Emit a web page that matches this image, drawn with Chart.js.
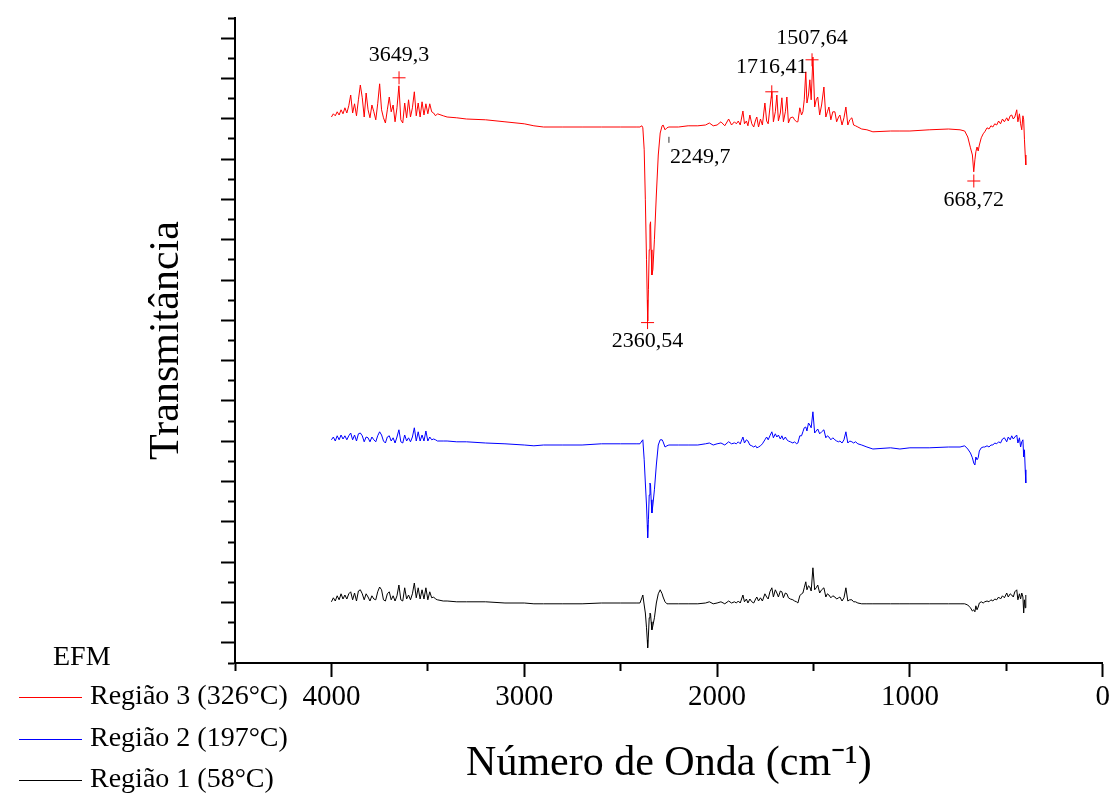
<!DOCTYPE html>
<html lang="pt">
<head>
<meta charset="utf-8">
<title>EFM - Transmitância</title>
<script src="https://cdn.jsdelivr.net/npm/chart.js@4.4.1/dist/chart.umd.min.js"></script>
<style>
    html, body { margin: 0; padding: 0; background: #fff; }
    #wrap { width: 1113px; height: 793px; position: relative; }
</style>
</head>
<body>
<div id="wrap"><canvas id="ftir-chart"></canvas></div>
<script>
// Wavenumbers (cm-1), shared by the three spectra
const wavenumbers = [
    4000, 3990, 3980, 3970, 3960, 3950, 3940, 3930, 3920, 3910,
    3900, 3890, 3880, 3870, 3860, 3850, 3840, 3830, 3820, 3810,
    3800, 3790, 3780, 3770, 3760, 3750, 3740, 3730, 3720, 3710,
    3700, 3690, 3680, 3670, 3660, 3650, 3640, 3630, 3620, 3610,
    3600, 3590, 3580, 3570, 3560, 3550, 3540, 3530, 3520, 3510,
    3500, 3490, 3480, 3470, 3460, 3450,
    3420, 3400, 3350, 3300, 3200, 3100, 3000, 2950, 2900, 2800,
    2700, 2600, 2500, 2420, 2400, 2390, 2385, 2378, 2372, 2366,
    2362, 2360, 2356, 2352, 2348, 2345, 2342, 2338, 2333, 2325,
    2315, 2305, 2295, 2285, 2280, 2270, 2260, 2250,
    2200, 2150, 2100, 2060, 2040, 2020, 2000, 1980, 1960, 1940, 1925, 1910,
    1900, 1890, 1880, 1866, 1858, 1848, 1840, 1830, 1820, 1810,
    1800, 1794, 1785, 1775, 1765, 1752, 1743, 1735, 1726, 1716,
    1708, 1698, 1690, 1682, 1672, 1664, 1656, 1646, 1638, 1630,
    1620, 1607, 1598, 1588, 1581, 1571, 1562, 1555, 1548, 1540,
    1534, 1526, 1519, 1512, 1503, 1494, 1486, 1478, 1468, 1458,
    1446, 1436, 1428, 1420, 1410, 1400, 1389, 1380, 1370, 1363,
    1352, 1342, 1332, 1322, 1312, 1301, 1292, 1282, 1270, 1250,
    1223, 1192, 1100, 1052,
    1000, 900, 800, 740, 716, 700, 686, 676, 669, 663,
    658, 652, 646, 640, 630, 620, 612, 600, 590, 580,
    570, 560, 550, 540, 530, 520, 510, 498, 490, 480,
    472, 464, 456, 446, 440, 432, 426, 420, 414, 410,
    406, 402, 399
];

// Transmittance (a.u., curves offset as in the original plot)
const regiao3 = [
    136.5, 137.3, 136.8, 137.8, 137, 138.3, 137.3, 138.8, 137.5, 139.3,
    142, 137.5, 139.8, 136.8, 140.8, 144.5, 141.3, 136.5, 142.5, 138.3,
    136.3, 139.5, 137.8, 135.8, 139.8, 144.8, 138.3, 136.3, 135, 138.3,
    141.5, 137.8, 139.5, 135.3, 138.8, 144.3, 135.8, 135, 140, 136.3,
    140.8, 136.5, 138.8, 142.8, 136.8, 140, 136.5, 140.3, 137, 139.8,
    137.3, 139.8, 137.8, 137.5, 136.8, 137.3,
    136.8, 136.5, 136.3, 136, 135.8, 135.3, 134.8, 134.3, 134, 134,
    134, 134, 134, 134, 134, 134.3, 133.8, 128.3, 115.8, 100.8,
    90.8, 85.5, 93.3, 103.3, 109.5, 110.3, 103.3, 97, 98.3, 105.8,
    117, 127, 132.5, 134.3, 134.5, 133.3, 133.8, 134,
    134, 134.3, 134.3, 134.5, 135, 134.3, 134.5, 135.3, 134.3, 136, 134.5, 135.3,
    134.8, 135.5, 134.5, 138, 134.8, 135.5, 134.3, 137, 134.8, 134,
    135.8, 136.5, 134, 136, 134.5, 140, 135.5, 134.8, 138.8, 142.8,
    135.3, 137.8, 142, 135.5, 137.5, 141.3, 135.3, 137.8, 141.5, 135,
    136.3, 136.5, 135.8, 135.3, 135.3, 138.8, 137, 137.8, 140.8, 147.8,
    140, 142, 145.8, 140.8, 151.5, 139, 140.8, 141.5, 137, 139.5,
    144, 136.5, 137.8, 139, 135.8, 137.8, 137.8, 135.3, 136.5, 137,
    134.5, 136.3, 139, 134.5, 135.8, 136.3, 134.5, 134.3, 134, 133.5,
    133.3, 132.8, 133, 133,
    133, 133.3, 133.5, 133.3, 133, 131.5, 128.8, 127, 122.8, 125.8,
    127.8, 129, 128, 129.5, 131.3, 132.3, 132.8, 133.8, 133.5, 134.3,
    134, 134.8, 134.5, 135.5, 134.8, 136, 135.3, 136.3, 135.5, 136.8,
    137, 136, 136.5, 138.3, 135.3, 137.3, 134.8, 133.3, 136.8, 135.8,
    130.8, 127, 124.5
];
const regiao2 = [
    55.8, 56.5, 55.5, 56.8, 55.8, 57, 56, 56.8, 55.8, 56.8,
    57.5, 55.8, 57, 55.5, 57.3, 57.5, 56.8, 55.3, 56.5, 56.3,
    55.3, 56.5, 55.8, 55.3, 56.8, 57.8, 57, 55.5, 55, 56.5,
    56.8, 55.5, 56.3, 55, 56.5, 58.3, 55.3, 55, 57, 55.5,
    56.3, 55.3, 56.5, 58.8, 55.5, 57.8, 55.5, 57, 55.5, 58,
    55.5, 56.5, 55.8, 56, 55.8, 55.5,
    55.5, 55.5, 55.3, 55.3, 55, 54.8, 54.5, 54.3, 54.5, 54.5,
    54.5, 54.8, 54.8, 54.8, 54.8, 55.5, 55.8, 50.8, 45, 39.5,
    34.5, 31.3, 35.8, 42, 45, 44.5, 40.8, 37.5, 39.5, 43.3,
    49.5, 54.5, 55.8, 55.8, 55.3, 54, 54.3, 54.5,
    54.5, 54.5, 54.5, 54.8, 55, 54.5, 54.8, 55, 54.5, 55.3, 54.8, 55,
    54.8, 55.3, 54.8, 56.5, 55, 55.8, 55.5, 54.5, 54.3, 54,
    54.3, 53.8, 54, 54.3, 54.8, 55.8, 56.5, 55.8, 56.8, 57.8,
    56.3, 57.3, 56.5, 57, 56, 56.8, 55.8, 56.5, 55.8, 55.5,
    55.3, 55, 55.3, 54.8, 55, 56.8, 56.8, 57.8, 58.8, 59,
    58, 60, 59.5, 58.8, 62.8, 57.5, 58, 58.5, 57.3, 57.8,
    58.3, 56.3, 56.8, 56.5, 55.8, 56.3, 55.8, 55.5, 55.3, 55.5,
    55, 55.8, 57.8, 55, 55.5, 55.3, 55, 55.3, 54.8, 54.5,
    54, 53.5, 53.8, 53.5,
    53.8, 53.8, 54, 54, 54.3, 53.5, 52.5, 51.3, 50, 49.5,
    51.5, 50.8, 51.3, 53, 53.8, 54, 54, 54.3, 54, 54.5,
    54.5, 55, 54.8, 55.3, 55, 56, 56.3, 55.3, 56.5, 55.8,
    56.8, 56, 56.5, 57, 55, 56.3, 54, 55.3, 55.8, 51.5,
    53.3, 48.3, 45
];
const regiao1 = [
    15.3, 16.3, 15.5, 16.8, 15.8, 17.3, 16, 17, 16, 17.3,
    17.8, 15.8, 17.5, 15.5, 18, 18.3, 17.3, 15.8, 17.3, 16.5,
    15.5, 16.8, 16, 15.8, 17.8, 19, 18.3, 15.8, 15.5, 17.3,
    17.8, 15.8, 16.8, 15.5, 16.8, 19.5, 15.8, 15.5, 18.8, 16,
    17, 15.8, 17.3, 20, 16.3, 18.8, 16, 18.3, 16, 18.8,
    15.8, 17.8, 16.3, 16.5, 16, 15.8,
    15.5, 15.5, 15.3, 15.3, 15.3, 15, 15, 14.8, 14.8, 14.8,
    14.8, 15, 15, 15, 15, 16.3, 17, 14.5, 12.5, 8.8,
    5.8, 3.8, 7, 11.3, 12.5, 12.3, 10.3, 8.3, 9.3, 11.3,
    15, 17.3, 18.3, 17.3, 16.5, 15.3, 14.8, 14.8,
    14.8, 14.8, 14.8, 15, 15.3, 14.8, 15, 15.3, 14.8, 15.5, 15, 15.3,
    15, 15.5, 15, 17, 15.3, 16, 15, 16, 15.3, 15,
    16, 16.5, 15.5, 16.3, 15.5, 17.3, 16.5, 16, 17.8, 18.8,
    16.5, 18.3, 17.5, 16.5, 18, 17.8, 16.3, 17.5, 17.3, 16.3,
    16, 15.8, 15.5, 15.3, 15, 16.8, 17.3, 17.5, 18.8, 20.3,
    18.3, 19.3, 19, 18, 23.8, 18.3, 18.8, 19.5, 17.5, 18.3,
    18.8, 16.5, 17.3, 17, 16.3, 16.8, 16.5, 16, 16.3, 16.5,
    15.5, 16.3, 18.8, 15.5, 15.8, 15.8, 15.3, 15.3, 15, 14.8,
    14.8, 14.8, 14.8, 14.8,
    14.8, 14.8, 14.8, 14.8, 14.8, 14.5, 13.8, 13, 13.3, 12.8,
    14.3, 13.3, 14, 15, 15.3, 15, 15.3, 15.5, 15.3, 15.8,
    15.5, 16, 15.8, 16.5, 16, 16.8, 16.3, 17.5, 16.5, 17.3,
    17, 16.5, 17.8, 18.3, 15.8, 17.3, 16, 17.5, 16.5, 12.5,
    15.8, 13.8, 17
];

const seriesLabels = ['Região 3 (326°C)', 'Região 2 (197°C)', 'Região 1 (58°C)'];
const seriesColors = ['#ff0000', '#0000ff', '#000000'];
const legendTitle = 'EFM';

// Marked peaks on the Região 3 curve
const peakWavenumbers = [3649.3, 2360.54, 2249.7, 1716.41, 1507.64, 668.72];
const peakValues = [146.3, 85.1, 130.8, 142.8, 150.8, 120.5];
const peakLabels = ['3649,3', '2360,54', '2249,7', '1716,41', '1507,64', '668,72'];

const xTickLabels = [4000, 3000, 2000, 1000, 0];

// label placement relative to the marker (px)
const labelOffsets = [[0, -23, 'center'], [0, 19, 'center'], [1, 17, 'left'],
                      [0, -25, 'center'], [0, -22, 'center'], [0, 19, 'center']];

const Y_MAX = 161.25;
const yTicks = Array.from({ length: 33 }, (_, k) => k * Y_MAX / 32);
const SERIF = '"Liberation Serif", "Times New Roman", serif';

Chart.defaults.font.family = SERIF;
Chart.defaults.color = '#000';

const whiteBg = {
    id: 'whiteBg',
    beforeDraw(chart) {
        const ctx = chart.ctx;
        ctx.save();
        ctx.fillStyle = '#fff';
        ctx.fillRect(0, 0, chart.width, chart.height);
        ctx.restore();
    }
};

const peakLabelPlugin = {
    id: 'peakLabels',
    afterDatasetsDraw(chart) {
        const { ctx, scales: { x, y } } = chart;
        ctx.save();
        ctx.font = '22px ' + SERIF;
        ctx.fillStyle = '#000';
        ctx.textBaseline = 'middle';
        peakLabels.forEach((text, i) => {
            const [dx, dy, align] = labelOffsets[i];
            ctx.textAlign = align;
            ctx.fillText(text, x.getPixelForValue(peakWavenumbers[i]) + dx,
                         y.getPixelForValue(peakValues[i]) + dy);
        });
        ctx.restore();
    }
};

// Legend sits under the plot, at the bottom left
const efmLegend = {
    id: 'efmLegend',
    afterDraw(chart) {
        const ctx = chart.ctx;
        ctx.save();
        ctx.font = '28px ' + SERIF;
        ctx.fillStyle = '#000';
        ctx.textBaseline = 'middle';
        ctx.textAlign = 'left';
        ctx.fillText(legendTitle, 53, 658);
        seriesLabels.forEach((label, i) => {
            const yy = 697 + i * 41.5;
            ctx.strokeStyle = seriesColors[i];
            ctx.lineWidth = 1;
            ctx.beginPath();
            ctx.moveTo(19, Math.round(yy) + 0.5);
            ctx.lineTo(82, Math.round(yy) + 0.5);
            ctx.stroke();
            ctx.fillText(label, 90, yy);
        });
        ctx.restore();
    }
};

const spectra = [regiao3, regiao2, regiao1].map((values, i) => ({
    label: seriesLabels[i],
    data: wavenumbers.map((w, j) => ({ x: w, y: values[j] })),
    borderColor: seriesColors[i],
    borderWidth: 1,
    pointRadius: 0,
    tension: 0,
    fill: false,
    order: i + 1
}));

const markers = {
    type: 'scatter',
    label: 'picos',
    data: peakWavenumbers.map((w, i) => ({ x: w, y: peakValues[i] })),
    showLine: false,
    pointStyle: c => (c.dataIndex === 2 ? 'line' : 'cross'),
    pointRotation: c => (c.dataIndex === 2 ? 90 : 0),
    pointRadius: c => (c.dataIndex === 2 ? 3 : 6.5),
    pointBorderColor: c => (c.dataIndex === 2 ? '#333' : '#ff0000'),
    pointBorderWidth: 1,
    order: -1
};

new Chart(document.getElementById('ftir-chart'), {
    type: 'line',
    data: { datasets: [...spectra, markers] },
    options: {
        responsive: true,
        maintainAspectRatio: false,
        animation: false,
        devicePixelRatio: 1,
        layout: { padding: { top: 18, right: 10, left: 0, bottom: 0 } },
        plugins: {
            legend: { display: false },
            tooltip: { enabled: false }
        },
        scales: {
            x: {
                type: 'linear',
                reverse: true,
                min: 0,
                max: 4500,
                afterFit: s => { s.height = 130; },
                ticks: {
                    stepSize: 500,
                    autoSkip: false,
                    maxRotation: 0,
                    padding: 3,
                    color: '#000',
                    font: { size: 29, family: SERIF },
                    callback: v => (xTickLabels.includes(v) ? String(v) : '')
                },
                grid: {
                    drawOnChartArea: false,
                    tickLength: 14,
                    tickWidth: 2,
                    tickColor: '#000',
                    tickBorderDash: c => (c.tick && xTickLabels.includes(c.tick.value) ? [] : [7, 100])
                },
                border: { color: '#000', width: 2 },
                title: {
                    display: true,
                    text: 'Número de Onda (cm⁻¹)',
                    color: '#000',
                    font: { size: 42, family: SERIF },
                    padding: { top: 0, bottom: 4 }
                }
            },
            y: {
                type: 'linear',
                min: 0,
                max: Y_MAX,
                afterBuildTicks: s => { s.ticks = yTicks.map(v => ({ value: v })); },
                afterFit: s => { s.width = 235; },
                ticks: { callback: () => '' },
                grid: {
                    drawOnChartArea: false,
                    tickLength: 14,
                    tickWidth: 2,
                    tickColor: '#000',
                    tickBorderDash: c => (c.index % 2 === 1 ? [] : [0, 7, 7, 100])
                },
                border: { color: '#000', width: 2 },
                title: {
                    display: true,
                    text: 'Transmitância',
                    color: '#000',
                    font: { size: 42, family: SERIF },
                    padding: { top: 142, bottom: 0 }
                }
            }
        }
    },
    plugins: [whiteBg, peakLabelPlugin, efmLegend]
});
</script>
</body>
</html>
